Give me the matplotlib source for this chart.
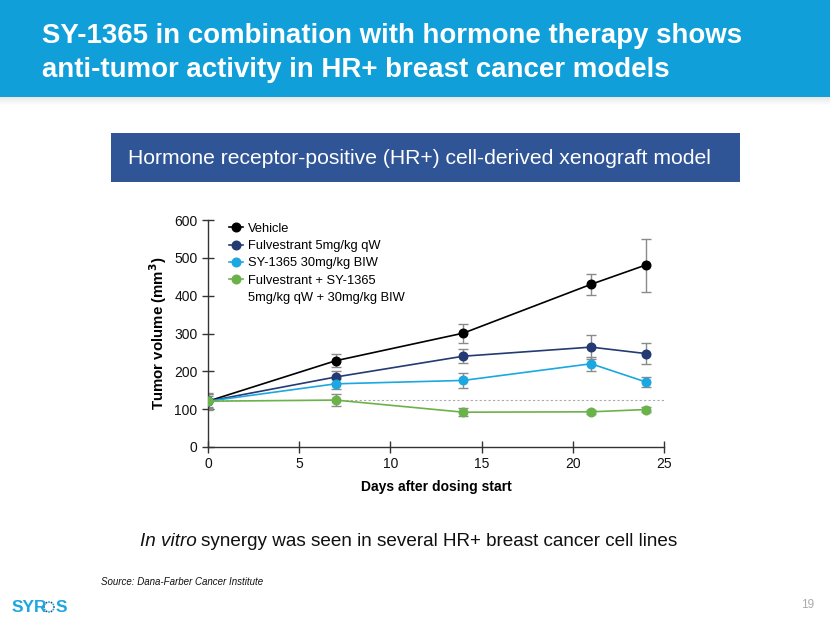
import matplotlib
matplotlib.use("Agg")
import matplotlib.pyplot as plt
from matplotlib.patches import Rectangle
from matplotlib.lines import Line2D
import numpy as np

plt.rcParams['font.family'] = ['Liberation Sans', 'DejaVu Sans']

days = [0, 7, 14, 21, 24]
series_names = ["Vehicle", "Fulvestrant 5mg/kg qW", "SY-1365 30mg/kg BIW",
                "Fulvestrant + SY-1365\n5mg/kg qW + 30mg/kg BIW"]
vehicle = [121, 228, 301, 430, 481]
vehicle_err = [23, 17, 25, 28, 70]
fulvestrant = [121, 185, 240, 264, 247]
fulvestrant_err = [20, 15, 18, 32, 28]
sy1365 = [121, 167, 176, 220, 172]
sy1365_err = [18, 14, 20, 19, 13]
combo = [121, 124, 92, 93, 99]
combo_err = [15, 15, 10, 6, 6]
baseline = 125
colors = ["#000000", "#233a72", "#1ca7e1", "#6cb24a"]
x_ticks = [0, 5, 10, 15, 20, 25]
y_ticks = [0, 100, 200, 300, 400, 500, 600]

W, H = 830, 623
fig = plt.figure(figsize=(W / 100, H / 100), dpi=100)

bg = fig.add_axes([0, 0, 1, 1])
bg.set_xlim(0, W)
bg.set_ylim(H, 0)
bg.axis("off")

# header with soft shadow
for i in range(8):
    bg.add_patch(Rectangle((0, 97 + i), W, 1, color="#000000", alpha=0.09 * (1 - i / 8), lw=0))
bg.add_patch(Rectangle((0, 0), W, 97, color="#109fd9", lw=0))
bg.text(42, 43, "SY-1365 in combination with hormone therapy shows", color="white",
        fontsize=19.9, fontweight="bold", va="baseline", ha="left")
bg.text(42, 77, "anti-tumor activity in HR+ breast cancer models", color="white",
        fontsize=19.9, fontweight="bold", va="baseline", ha="left")

# subtitle box
bg.add_patch(Rectangle((111, 133), 629, 49, color="#2f5597", lw=0))
bg.text(128, 164.5, "Hormone receptor-positive (HR+) cell-derived xenograft model",
        color="white", fontsize=15.2, ha="left", va="baseline")

# bottom text
renderer = fig.canvas.get_renderer()
t1 = bg.text(140, 546, "In vitro", style="italic", fontsize=13.6, ha="left",
             va="baseline", color="#111111")
ext = t1.get_window_extent(renderer)
x_next = 140 + ext.width + 4.5
bg.text(x_next, 546, "synergy was seen in several HR+ breast cancer cell lines",
        fontsize=13.6, ha="left", va="baseline", color="#111111")
bg.text(101, 582, "Source: Dana-Farber Cancer Institute", style="italic", fontsize=7,
        ha="left", va="center", color="#111111")
bg.text(808, 605, "19", fontsize=8.5, ha="center", va="center", color="#aaaaaa")

# logo
logo_c = "#1ea6e0"
bg.text(12, 607, "SYR", fontsize=12.5, fontweight="bold", color=logo_c, ha="left", va="center")
bg.text(56, 607, "S", fontsize=12.5, fontweight="bold", color=logo_c, ha="left", va="center")
ang = np.linspace(0, 2 * np.pi, 12, endpoint=False)
bg.scatter(49 + 5 * np.cos(ang), 607 + 5 * np.sin(ang), s=1.8,
           c=["#1ea6e0" if i % 2 else "#2a4a8a" for i in range(12)], lw=0)

# main chart
ax = fig.add_axes([208 / W, (H - 447) / H, 456 / W, 227 / H])
ax.set_xlim(0, 25)
ax.set_ylim(0, 600)
ax.plot([0, 25], [baseline, baseline], ls=(0, (2, 2)), color="#aaaaaa", lw=0.8, zorder=1)

data = [(vehicle, vehicle_err), (fulvestrant, fulvestrant_err),
        (sy1365, sy1365_err), (combo, combo_err)]
handles, labels = [], []
for (vals, errs), c, name in zip(data, colors, series_names):
    ax.errorbar(days, vals, yerr=errs, fmt="none", ecolor="#8a8a8a", elinewidth=1.0,
                capsize=3.5, capthick=1.0, zorder=2)
    ln, = ax.plot(days, vals, color=c, lw=1.2, marker="o", markersize=6.2, zorder=3)
    parts = name.split("\n")
    handles.append(ln)
    labels.append(parts[0])
    for extra in parts[1:]:
        handles.append(Line2D([], [], color="none"))
        labels.append(extra)

for s in ["top", "right"]:
    ax.spines[s].set_visible(False)
for s in ["left", "bottom"]:
    ax.spines[s].set_color("#333333")
    ax.spines[s].set_linewidth(1.0)
ax.set_xticks(x_ticks)
ax.set_yticks(y_ticks)
ax.tick_params(direction="inout", length=8, width=1.0, colors="#333333", labelsize=10,
               labelcolor="#111111")
ax.set_xlabel("Days after dosing start", fontsize=10, fontweight="bold", labelpad=6.5)
ax.set_ylabel("Tumor volume (mm$^\\mathbf{3}$)", fontsize=10.8, fontweight="bold", labelpad=4)

leg = ax.legend(handles, labels, loc="upper left", bbox_to_anchor=(0.046, 0.987),
                frameon=False, fontsize=9.3, handlelength=1.05, handletextpad=0.45,
                labelspacing=0.4, borderaxespad=0, borderpad=0)

fig.savefig("out.png", dpi=100)
